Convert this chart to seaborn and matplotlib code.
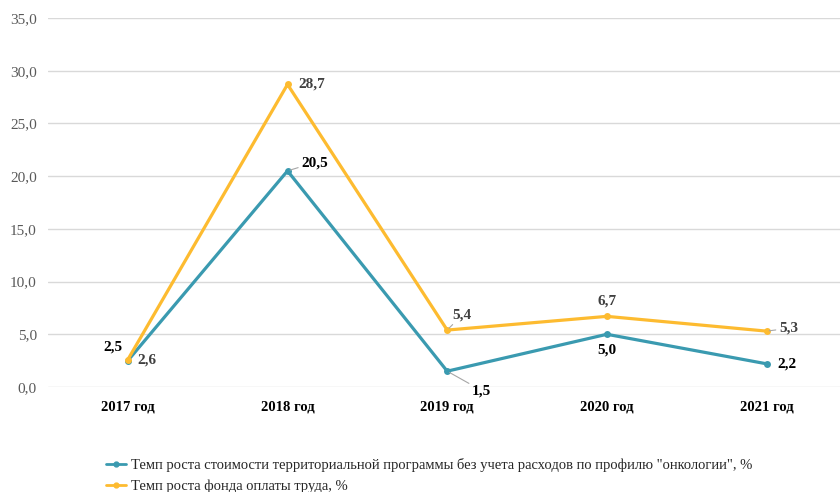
import matplotlib
matplotlib.use("Agg")
import matplotlib.pyplot as plt
import seaborn as sns
import pandas as pd

years = ["2017 год", "2018 год", "2019 год", "2020 год", "2021 год"]
program_growth = [2.5, 20.5, 1.5, 5.0, 2.2]
payroll_growth = [2.6, 28.7, 5.4, 6.7, 5.3]
series_names = [
    'Темп роста стоимости территориальной программы без учета расходов по профилю "онкологии", %',
    "Темп роста фонда оплаты труда, %",
]
y_ticks = [0, 5, 10, 15, 20, 25, 30, 35]

blue = "#3A9AB0"
orange = "#FDBB30"

sns.set_theme(style="white")
plt.rcParams["font.family"] = ["Liberation Serif", "DejaVu Serif"]

df = pd.DataFrame({
    "x": list(range(len(years))) * 2,
    "value": program_growth + payroll_growth,
    "series": [series_names[0]] * len(years) + [series_names[1]] * len(years),
})

fig = plt.figure(figsize=(8.4, 4.92), dpi=100)
ax = fig.add_axes([48 / 840, 1 - 387 / 492, 1 - 48 / 840, (387 - 18) / 492])

sns.lineplot(data=df, x="x", y="value", hue="series",
             palette={series_names[0]: blue, series_names[1]: orange},
             hue_order=series_names,
             marker="o", markersize=5, markeredgewidth=0, linewidth=2.3,
             ax=ax, legend=False)

ax.set_xlim(-0.5, 4.46)
ax.set_ylim(0, 35)
ax.set_yticks(y_ticks)
ax.set_yticklabels([f"{v:.1f}".replace(".", ",") for v in y_ticks],
                   color="#595959", fontsize=11)
ax.set_xticks(range(len(years)))
ax.set_xticklabels(years, fontweight="bold", fontsize=10.5, color="black")
ax.tick_params(axis="x", length=0, pad=10)
ax.tick_params(axis="y", length=0, pad=8)
ax.set_xlabel("")
ax.set_ylabel("")
ax.grid(axis="y", color="#D9D9D9", linewidth=1)
ax.set_axisbelow(True)
for s in ax.spines.values():
    s.set_visible(False)

def fmt(v):
    return f"{v:.1f}".replace(".", ",")

# (dx, dy) offsets in points, horizontal alignment, leader line
blue_offsets = [((-11, 10), "center", False), ((10, 6), "left", True),
                ((18, -14), "left", True), ((0, -11), "center", False),
                ((8, 0), "left", False)]
orange_offsets = [((7, 0), "left", False), ((8, 0), "left", False),
                  ((4, 11), "left", True), ((0, 11), "center", False),
                  ((9, 2), "left", True)]

for vals, offs, col in [(program_growth, blue_offsets, "black"),
                        (payroll_growth, orange_offsets, "#404040")]:
    for i, v in enumerate(vals):
        (dx, dy), ha, leader = offs[i]
        kw = {}
        if leader:
            kw["arrowprops"] = dict(arrowstyle="-", color="#A6A6A6", lw=0.8,
                                    shrinkA=0, shrinkB=2)
        ax.annotate(fmt(v), xy=(i, v), xytext=(dx, dy), textcoords="offset points",
                    ha=ha, va="center", fontsize=11, fontweight="bold", color=col, **kw)

handles = [plt.Line2D([], [], color=blue, marker="o", markersize=3.5, lw=2),
           plt.Line2D([], [], color=orange, marker="o", markersize=3.5, lw=2)]
fig.legend(handles, series_names, loc="upper left",
           bbox_to_anchor=(100 / 840, 1 - 452 / 492), frameon=False,
           fontsize=10.5, handlelength=1.4, handletextpad=0.3,
           labelspacing=0.55, borderaxespad=0)

fig.savefig("out.png", dpi=100)
